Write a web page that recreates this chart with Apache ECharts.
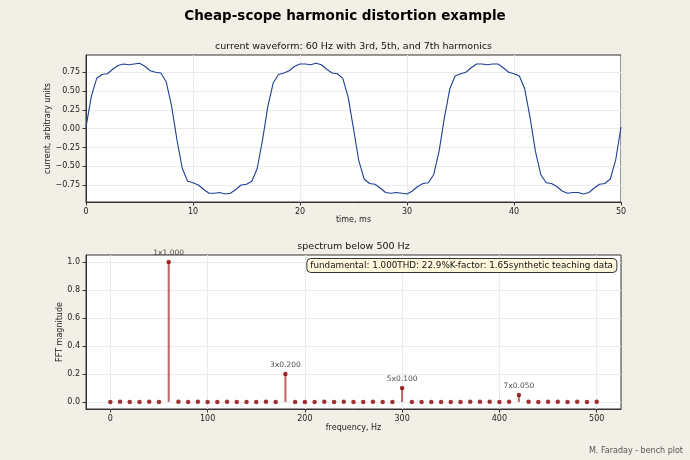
<!DOCTYPE html>
<html>
<head>
<meta charset="utf-8">
<script src="https://cdn.jsdelivr.net/npm/echarts@6/dist/echarts.min.js"></script>
<style>
html,body{margin:0;padding:0;background:#f2efe6;}
#chart{width:690px;height:460px;}
</style>
</head>
<body>
<div id="chart"></div>
<script>
var timeMs = [];
for (var i = 0; i <= 100; i++) timeMs.push(i * 0.5);
var current = [
  0.02, 0.43, 0.67, 0.72, 0.73, 0.79, 0.84, 0.86, 0.85, 0.86,
  0.87, 0.83, 0.77, 0.75, 0.74, 0.62, 0.30, -0.15, -0.53, -0.70,
  -0.72, -0.75, -0.81, -0.86, -0.86, -0.85, -0.87, -0.86, -0.81, -0.75,
  -0.74, -0.70, -0.53, -0.15, 0.30, 0.61, 0.72, 0.74, 0.77, 0.83,
  0.86, 0.86, 0.85, 0.87, 0.85, 0.79, 0.74, 0.73, 0.67, 0.42,
  0.00, -0.43, -0.67, -0.73, -0.74, -0.79, -0.85, -0.86, -0.85, -0.86,
  -0.87, -0.83, -0.77, -0.73, -0.72, -0.61, -0.30, 0.15, 0.53, 0.70,
  0.73, 0.75, 0.81, 0.86, 0.86, 0.85, 0.86, 0.86, 0.81, 0.75,
  0.73, 0.70, 0.53, 0.15, -0.30, -0.61, -0.72, -0.73, -0.77, -0.83,
  -0.86, -0.85, -0.85, -0.87, -0.85, -0.79, -0.74, -0.73, -0.67, -0.42,
  0.02
];
var waveYTicks = [-0.75, -0.5, -0.25, 0, 0.25, 0.5, 0.75];

// spectrum bins 0..500 Hz every 10 Hz
var freqHz = [];
for (var f = 0; f <= 500; f += 10) freqHz.push(f);
var magnitude = [
  0.000, 0.002, 0.000, 0.000, 0.002, 0.000, 1.000, 0.002, 0.000, 0.002,
  0.000, 0.000, 0.002, 0.000, 0.000, 0.000, 0.002, 0.000, 0.200, 0.000,
  0.000, 0.000, 0.002, 0.000, 0.002, 0.000, 0.000, 0.002, 0.000, 0.000,
  0.100, 0.000, 0.000, 0.000, 0.000, 0.000, 0.000, 0.002, 0.002, 0.002,
  0.000, 0.002, 0.050, 0.002, 0.000, 0.002, 0.002, 0.000, 0.002, 0.000,
  0.002
];
var harmonicFreqs = [60, 180, 300, 420];
var harmonicLabels = ['1x1.000', '3x0.200', '5x0.100', '7x0.050'];
var specYTicks = [0, 0.2, 0.4, 0.6, 0.8, 1.0];
var specXTicks = [0, 100, 200, 300, 400, 500];

var FONT = 'DejaVu Sans';
var chart = echarts.init(document.getElementById('chart'));

var waveData = timeMs.map(function (t, i) { return [t, current[i]]; });
var stemData = freqHz.map(function (f, i) { return [f, magnitude[i]]; });
var dotData = freqHz.map(function (f, i) {
  var k = harmonicFreqs.indexOf(f);
  var d = { value: [f, magnitude[i]] };
  if (k >= 0) d.label = { show: true, formatter: harmonicLabels[k] };
  return d;
});

function axisCommon() {
  return {
    axisLine: { show: true, onZero: false, lineStyle: { color: '#333', width: 1 } },
    axisTick: { show: true, inside: false, length: 3.5, lineStyle: { color: '#333' } },
    axisLabel: { color: '#222', fontFamily: FONT, fontSize: 8, margin: 6 },
    splitLine: { show: true, lineStyle: { color: '#ebebeb', width: 1 } },
    nameTextStyle: { color: '#222', fontFamily: FONT, fontSize: 8 },
    nameLocation: 'middle',
    nameMoveOverlap: false
  };
}

var xTop = Object.assign(axisCommon(), {
  type: 'value', gridIndex: 0, min: 0, max: 50, interval: 10,
  name: 'time, ms', nameGap: 14
});
var yTop = Object.assign(axisCommon(), {
  type: 'value', gridIndex: 0, min: -0.976, max: 0.98,
  name: 'current, arbitrary units', nameGap: 34
});
yTop.axisTick.customValues = waveYTicks;
yTop.axisLabel.customValues = waveYTicks;
yTop.axisLabel.formatter = function (v) { return v.toFixed(2).replace('-', '\u2212'); };
yTop.splitLine.customValues = waveYTicks;

var xBot = Object.assign(axisCommon(), {
  type: 'value', gridIndex: 1, min: -25, max: 525,
  name: 'frequency, Hz', nameGap: 15
});
xBot.axisTick.customValues = specXTicks;
xBot.axisLabel.customValues = specXTicks;
var yBot = Object.assign(axisCommon(), {
  type: 'value', gridIndex: 1, min: -0.05, max: 1.05,
  name: 'FFT magnitude', nameGap: 22
});
yBot.axisTick.customValues = specYTicks;
yBot.axisLabel.customValues = specYTicks;
yBot.axisLabel.formatter = function (v) { return v.toFixed(1); };

var option = {
  backgroundColor: '#f2efe6',
  animation: false,
  title: [
    { text: 'Cheap-scope harmonic distortion example', left: 'center', top: 9, padding: 0,
      textStyle: { fontFamily: FONT, fontSize: 13.5, fontWeight: 'bold', color: '#000' } },
    { text: 'current waveform: 60 Hz with 3rd, 5th, and 7th harmonics', left: 353.5, top: 42, padding: 0, textAlign: 'center',
      textStyle: { fontFamily: FONT, fontSize: 9.5, fontWeight: 'normal', color: '#111' } },
    { text: 'spectrum below 500 Hz', left: 353.5, top: 241.5, padding: 0, textAlign: 'center',
      textStyle: { fontFamily: FONT, fontSize: 9.5, fontWeight: 'normal', color: '#111' } },
    { text: 'fundamental: 1.000THD: 22.9%K-factor: 1.65synthetic teaching data', right: 73, top: 258,
      padding: [3, 4, 3, 4], backgroundColor: '#fff8dc', borderColor: '#333', borderWidth: 1, borderRadius: 4,
      textStyle: { fontFamily: FONT, fontSize: 8.8, fontWeight: 'normal', color: '#111' } },
    { text: 'M. Faraday - bench plot', right: 7, top: 446.5, padding: 0,
      textStyle: { fontFamily: FONT, fontSize: 8, fontWeight: 'normal', color: '#555' } }
  ],
  grid: [
    { left: 86, right: 69, top: 55, height: 147, show: true, backgroundColor: '#fff', borderColor: '#333', borderWidth: 1 },
    { left: 86, right: 69, top: 255, height: 154, show: true, backgroundColor: '#fff', borderColor: '#333', borderWidth: 1 }
  ],
  xAxis: [xTop, xBot],
  yAxis: [yTop, yBot],
  series: [
    {
      type: 'line', xAxisIndex: 0, yAxisIndex: 0, data: waveData,
      showSymbol: false, smooth: false,
      lineStyle: { color: '#1f3f95', width: 1.1 }
    },
    {
      type: 'bar', xAxisIndex: 1, yAxisIndex: 1, data: stemData,
      barWidth: 2, itemStyle: { color: '#b34a4a', opacity: 0.85 }
    },
    {
      type: 'scatter', xAxisIndex: 1, yAxisIndex: 1, data: dotData,
      symbol: 'circle', symbolSize: 4.5, itemStyle: { color: '#8b0000' },
      label: { show: false, position: 'top', distance: 3, color: '#222', fontFamily: FONT, fontSize: 7.5 },
      z: 5
    }
  ]
};
chart.setOption(option);
</script>
</body>
</html>
